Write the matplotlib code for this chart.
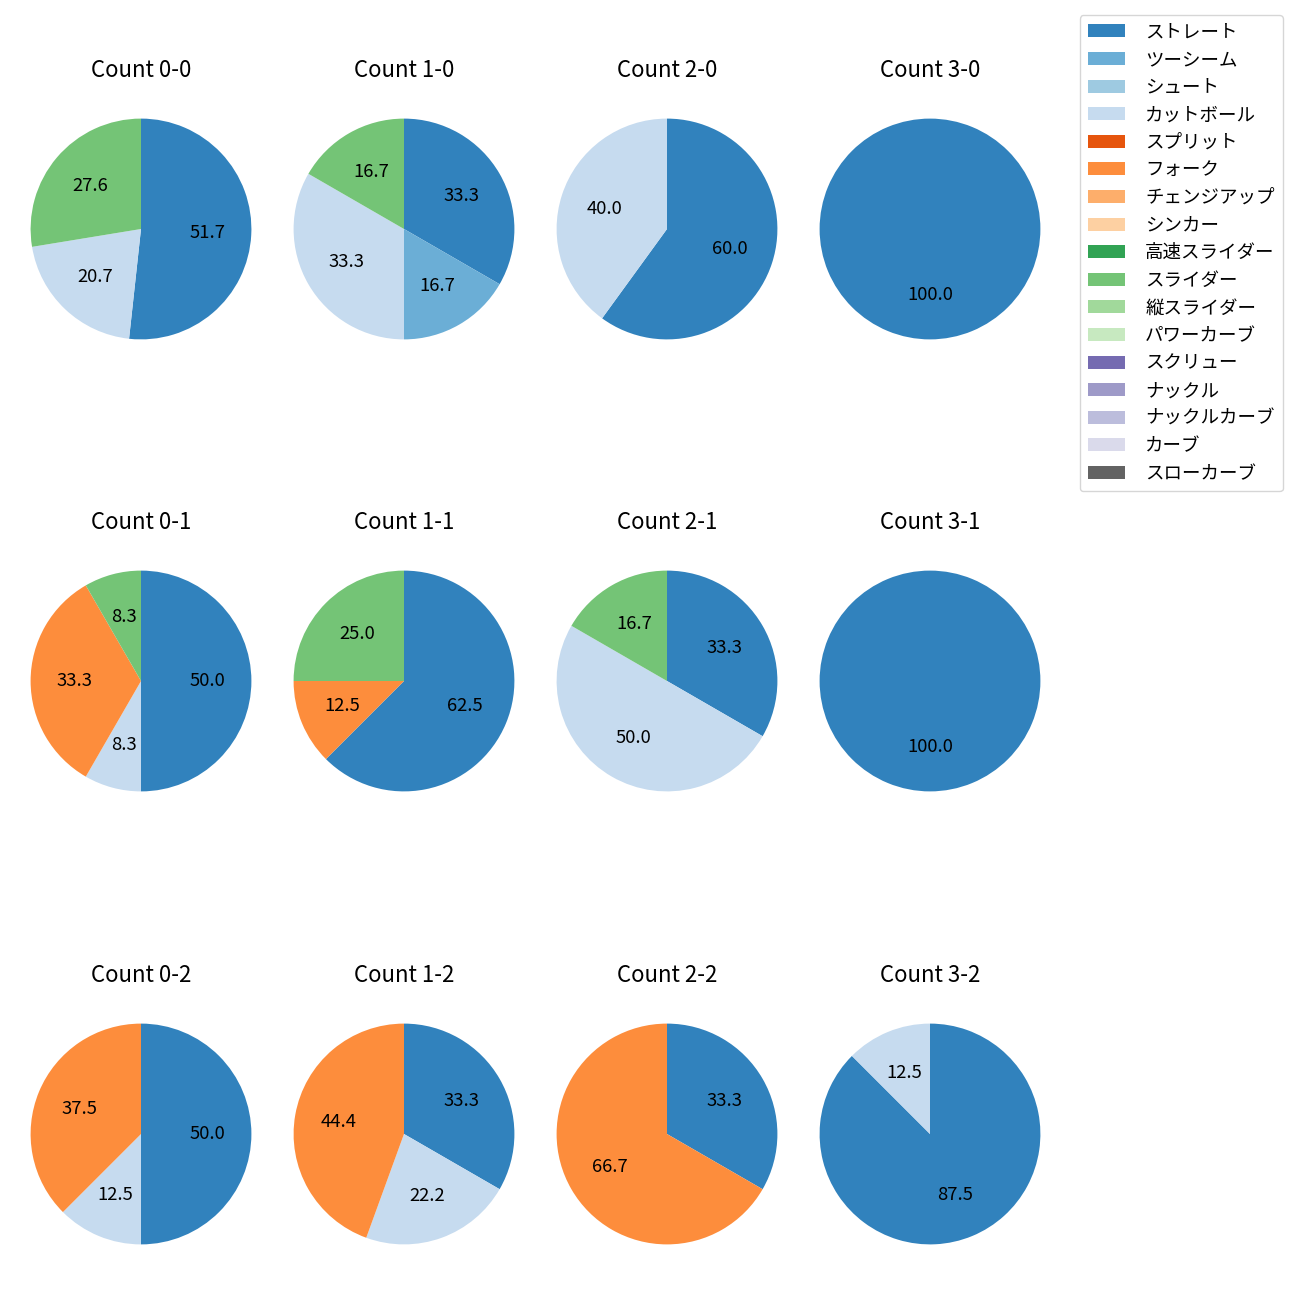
import numpy as np
import matplotlib
matplotlib.use("Agg")
import matplotlib.pyplot as plt
from matplotlib.patches import Patch

plt.rcParams['font.family'] = ['Noto Sans CJK JP', 'DejaVu Sans']

pitch_types = ["ストレート", "ツーシーム", "シュート", "カットボール", "スプリット", "フォーク",
               "チェンジアップ", "シンカー", "高速スライダー", "スライダー", "縦スライダー",
               "パワーカーブ", "スクリュー", "ナックル", "ナックルカーブ", "カーブ", "スローカーブ"]

# pitch counts per ball-strike count (order follows pitch_types)
count_0_0 = {"ストレート": 15, "カットボール": 6, "スライダー": 8}
count_1_0 = {"ストレート": 2, "ツーシーム": 1, "カットボール": 2, "スライダー": 1}
count_2_0 = {"ストレート": 3, "カットボール": 2}
count_3_0 = {"ストレート": 1}
count_0_1 = {"ストレート": 6, "カットボール": 1, "フォーク": 4, "スライダー": 1}
count_1_1 = {"ストレート": 5, "フォーク": 1, "スライダー": 2}
count_2_1 = {"ストレート": 2, "カットボール": 3, "スライダー": 1}
count_3_1 = {"ストレート": 1}
count_0_2 = {"ストレート": 4, "カットボール": 1, "フォーク": 3}
count_1_2 = {"ストレート": 3, "カットボール": 2, "フォーク": 4}
count_2_2 = {"ストレート": 1, "フォーク": 2}
count_3_2 = {"ストレート": 7, "カットボール": 1}

grid = [[count_0_0, count_1_0, count_2_0, count_3_0],
        [count_0_1, count_1_1, count_2_1, count_3_1],
        [count_0_2, count_1_2, count_2_2, count_3_2]]

cmap = plt.get_cmap("tab20c")
colors = {p: cmap(i) for i, p in enumerate(pitch_types)}

W = 1300
fig = plt.figure(figsize=(13, 13), dpi=100)
cx = [141, 404, 667, 930]
cy = [229, 681, 1134]
side = 276
for r in range(3):
    for c in range(4):
        ax = fig.add_axes([(cx[c] - side / 2) / W, 1 - (cy[r] + side / 2) / W, side / W, side / W])
        d = grid[r][c]
        labels = [p for p in pitch_types if d.get(p, 0) > 0]
        vals = [d[p] for p in labels]
        ax.pie(vals, colors=[colors[p] for p in labels], autopct="%.1f",
               startangle=90, counterclock=False, textprops={"fontsize": 13.3})
        ax.set_title(f"Count {c}-{r}", fontsize=16, pad=10)

handles = [Patch(facecolor=colors[p]) for p in pitch_types]
fig.legend(handles, pitch_types, loc="upper right", fontsize=13.3,
           handletextpad=1.1, borderpad=0.45, labelspacing=0.52,
           bbox_to_anchor=(1283 / W, 1 - 15 / W), borderaxespad=0)
fig.savefig("out.png", dpi=100)
